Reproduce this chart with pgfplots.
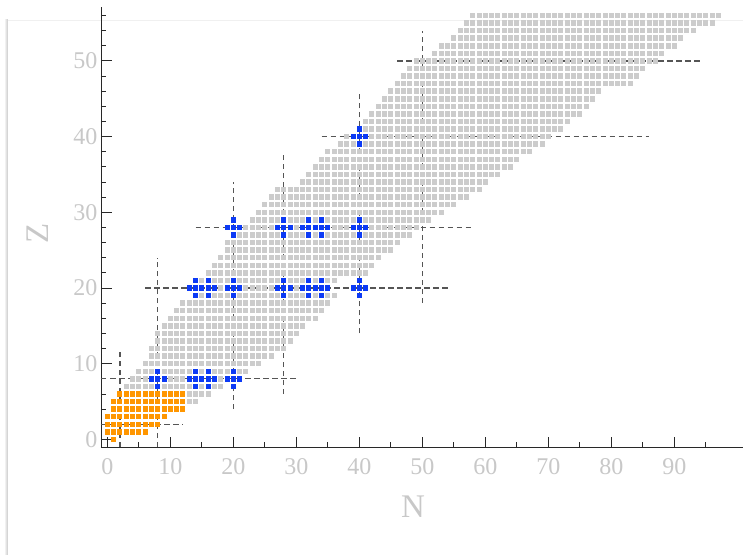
\documentclass[border=0pt]{standalone}
\usepackage{fontspec}
\setmainfont{Liberation Serif}
\usepackage{pgfplots}
\pgfplotsset{compat=1.18}
\definecolor{cellgray}{RGB}{204,204,204}
\definecolor{magicblue}{RGB}{12,58,245}
\definecolor{lightorange}{RGB}{255,150,0}
\definecolor{labelgray}{RGB}{200,200,200}
\definecolor{guide}{RGB}{85,85,85}
\definecolor{axisdark}{RGB}{40,40,40}

% one cell of the chart: slightly taller than wide
\pgfdeclareplotmark{cell}{%
  \pgfpathrectangle{\pgfpoint{-2.5pt}{-2.75pt}}{\pgfpoint{5.0pt}{5.5pt}}%
  \pgfusepathqfill}

\begin{document}
\begin{tikzpicture}
\useasboundingbox (-101pt,-107pt) rectangle (642pt,447pt);
% soft page edge behind the plot
\fill[left color=white, right color=black!22] (-97pt,-107pt) rectangle (-93pt,427pt);
\draw[black!6] (-93pt,427pt) -- (642pt,427pt);
\begin{axis}[
  scale only axis, width=642pt, height=440pt,
  xmin=-1, xmax=100.905, ymin=-1, ymax=57.12,
  axis x line*=bottom, axis y line*=left,
  axis line style={axisdark, line width=0.9pt},
  tick style={axisdark, line width=0.9pt},
  tick align=inside,
  major tick length=10.5pt, minor tick length=5pt,
  xtick={0,10,...,90}, minor xtick={5,15,...,95},
  ytick={0,10,...,50},
  minor ytick={2,4,6,8,12,14,16,18,22,24,26,28,32,34,36,38,42,44,46,48,52,54,56},
  /pgf/number format/assume math mode=true,
  tick label style={font=\fontsize{24}{24}\selectfont, text=labelgray},
  xticklabel style={yshift=-8.5pt},
  label style={font=\fontsize{33}{33}\selectfont, text=labelgray},
  xlabel={N}, ylabel={Z},
  xlabel style={at={(axis description cs:0.486,-0.1352)}, anchor=center},
  ylabel style={at={(axis description cs:-0.0981,0.486)}, anchor=center},
  cells/.style={only marks, mark=cell, color=#1},
]

% known nuclides (N,Z)
\addplot[cells=cellgray] coordinates {
(13,5)(14,5)
(13,6)(14,6)(15,6)(16,6)
(3,7)(4,7)(5,7)(6,7)(7,7)(8,7)(9,7)(10,7)(11,7)(12,7)(13,7)(14,7)(15,7)(16,7)(17,7)(18,7)
(4,8)(5,8)(6,8)(7,8)(8,8)(9,8)(10,8)(11,8)(12,8)(13,8)(14,8)(15,8)(16,8)(17,8)(18,8)(19,8)(20,8)
(5,9)(6,9)(7,9)(8,9)(9,9)(10,9)(11,9)(12,9)(13,9)(14,9)(15,9)(16,9)(17,9)(18,9)(19,9)(20,9)(21,9)(22,9)
(6,10)(7,10)(8,10)(9,10)(10,10)(11,10)(12,10)(13,10)(14,10)(15,10)(16,10)(17,10)(18,10)(19,10)(20,10)(21,10)(22,10)(23,10)(24,10)
(7,11)(8,11)(9,11)(10,11)(11,11)(12,11)(13,11)(14,11)(15,11)(16,11)(17,11)(18,11)(19,11)(20,11)(21,11)(22,11)(23,11)(24,11)(25,11)(26,11)
(7,12)(8,12)(9,12)(10,12)(11,12)(12,12)(13,12)(14,12)(15,12)(16,12)(17,12)(18,12)(19,12)(20,12)(21,12)(22,12)(23,12)(24,12)(25,12)(26,12)(27,12)(28,12)
(8,13)(9,13)(10,13)(11,13)(12,13)(13,13)(14,13)(15,13)(16,13)(17,13)(18,13)(19,13)(20,13)(21,13)(22,13)(23,13)(24,13)(25,13)(26,13)(27,13)(28,13)(29,13)
(8,14)(9,14)(10,14)(11,14)(12,14)(13,14)(14,14)(15,14)(16,14)(17,14)(18,14)(19,14)(20,14)(21,14)(22,14)(23,14)(24,14)(25,14)(26,14)(27,14)(28,14)(29,14)(30,14)
(9,15)(10,15)(11,15)(12,15)(13,15)(14,15)(15,15)(16,15)(17,15)(18,15)(19,15)(20,15)(21,15)(22,15)(23,15)(24,15)(25,15)(26,15)(27,15)(28,15)(29,15)(30,15)(31,15)
(10,16)(11,16)(12,16)(13,16)(14,16)(15,16)(16,16)(17,16)(18,16)(19,16)(20,16)(21,16)(22,16)(23,16)(24,16)(25,16)(26,16)(27,16)(28,16)(29,16)(30,16)(31,16)(32,16)(33,16)
(11,17)(12,17)(13,17)(14,17)(15,17)(16,17)(17,17)(18,17)(19,17)(20,17)(21,17)(22,17)(23,17)(24,17)(25,17)(26,17)(27,17)(28,17)(29,17)(30,17)(31,17)(32,17)(33,17)(34,17)
(12,18)(13,18)(14,18)(15,18)(16,18)(17,18)(18,18)(19,18)(20,18)(21,18)(22,18)(23,18)(24,18)(25,18)(26,18)(27,18)(28,18)(29,18)(30,18)(31,18)(32,18)(33,18)(34,18)(35,18)
(14,19)(15,19)(16,19)(17,19)(18,19)(19,19)(20,19)(21,19)(22,19)(23,19)(24,19)(25,19)(26,19)(27,19)(28,19)(29,19)(30,19)(31,19)(32,19)(33,19)(34,19)(35,19)(36,19)
(13,20)(14,20)(15,20)(16,20)(17,20)(18,20)(19,20)(20,20)(21,20)(22,20)(23,20)(24,20)(25,20)(26,20)(27,20)(28,20)(29,20)(30,20)(31,20)(32,20)(33,20)(34,20)(35,20)
(15,21)(16,21)(17,21)(18,21)(19,21)(20,21)(21,21)(22,21)(23,21)(24,21)(25,21)(26,21)(27,21)(28,21)(29,21)(30,21)(31,21)(32,21)(33,21)(34,21)(35,21)(36,21)
(16,22)(17,22)(18,22)(19,22)(20,22)(21,22)(22,22)(23,22)(24,22)(25,22)(26,22)(27,22)(28,22)(29,22)(30,22)(31,22)(32,22)(33,22)(34,22)(35,22)(36,22)(37,22)(38,22)(39,22)(40,22)(41,22)
(17,23)(18,23)(19,23)(20,23)(21,23)(22,23)(23,23)(24,23)(25,23)(26,23)(27,23)(28,23)(29,23)(30,23)(31,23)(32,23)(33,23)(34,23)(35,23)(36,23)(37,23)(38,23)(39,23)(40,23)(41,23)(42,23)
(18,24)(19,24)(20,24)(21,24)(22,24)(23,24)(24,24)(25,24)(26,24)(27,24)(28,24)(29,24)(30,24)(31,24)(32,24)(33,24)(34,24)(35,24)(36,24)(37,24)(38,24)(39,24)(40,24)(41,24)(42,24)(43,24)
(19,25)(20,25)(21,25)(22,25)(23,25)(24,25)(25,25)(26,25)(27,25)(28,25)(29,25)(30,25)(31,25)(32,25)(33,25)(34,25)(35,25)(36,25)(37,25)(38,25)(39,25)(40,25)(41,25)(42,25)(43,25)(44,25)(45,25)
(19,26)(20,26)(21,26)(22,26)(23,26)(24,26)(25,26)(26,26)(27,26)(28,26)(29,26)(30,26)(31,26)(32,26)(33,26)(34,26)(35,26)(36,26)(37,26)(38,26)(39,26)(40,26)(41,26)(42,26)(43,26)(44,26)(45,26)(46,26)
(21,27)(22,27)(23,27)(24,27)(25,27)(26,27)(27,27)(28,27)(29,27)(30,27)(31,27)(32,27)(33,27)(34,27)(35,27)(36,27)(37,27)(38,27)(39,27)(40,27)(41,27)(42,27)(43,27)(44,27)(45,27)(46,27)(47,27)(48,27)
(20,28)(21,28)(22,28)(23,28)(24,28)(25,28)(26,28)(27,28)(28,28)(29,28)(30,28)(31,28)(32,28)(33,28)(34,28)(35,28)(36,28)(37,28)(38,28)(39,28)(40,28)(41,28)(42,28)(43,28)(44,28)(45,28)(46,28)(47,28)(48,28)(49,28)
(23,29)(24,29)(25,29)(26,29)(27,29)(28,29)(29,29)(30,29)(31,29)(32,29)(33,29)(34,29)(35,29)(36,29)(37,29)(38,29)(39,29)(40,29)(41,29)(42,29)(43,29)(44,29)(45,29)(46,29)(47,29)(48,29)(49,29)(50,29)(51,29)
(24,30)(25,30)(26,30)(27,30)(28,30)(29,30)(30,30)(31,30)(32,30)(33,30)(34,30)(35,30)(36,30)(37,30)(38,30)(39,30)(40,30)(41,30)(42,30)(43,30)(44,30)(45,30)(46,30)(47,30)(48,30)(49,30)(50,30)(51,30)(52,30)(53,30)
(25,31)(26,31)(27,31)(28,31)(29,31)(30,31)(31,31)(32,31)(33,31)(34,31)(35,31)(36,31)(37,31)(38,31)(39,31)(40,31)(41,31)(42,31)(43,31)(44,31)(45,31)(46,31)(47,31)(48,31)(49,31)(50,31)(51,31)(52,31)(53,31)(54,31)(55,31)
(26,32)(27,32)(28,32)(29,32)(30,32)(31,32)(32,32)(33,32)(34,32)(35,32)(36,32)(37,32)(38,32)(39,32)(40,32)(41,32)(42,32)(43,32)(44,32)(45,32)(46,32)(47,32)(48,32)(49,32)(50,32)(51,32)(52,32)(53,32)(54,32)(55,32)(56,32)(57,32)
(27,33)(28,33)(29,33)(30,33)(31,33)(32,33)(33,33)(34,33)(35,33)(36,33)(37,33)(38,33)(39,33)(40,33)(41,33)(42,33)(43,33)(44,33)(45,33)(46,33)(47,33)(48,33)(49,33)(50,33)(51,33)(52,33)(53,33)(54,33)(55,33)(56,33)(57,33)(58,33)(59,33)
(31,34)(32,34)(33,34)(34,34)(35,34)(36,34)(37,34)(38,34)(39,34)(40,34)(41,34)(42,34)(43,34)(44,34)(45,34)(46,34)(47,34)(48,34)(49,34)(50,34)(51,34)(52,34)(53,34)(54,34)(55,34)(56,34)(57,34)(58,34)(59,34)(60,34)
(32,35)(33,35)(34,35)(35,35)(36,35)(37,35)(38,35)(39,35)(40,35)(41,35)(42,35)(43,35)(44,35)(45,35)(46,35)(47,35)(48,35)(49,35)(50,35)(51,35)(52,35)(53,35)(54,35)(55,35)(56,35)(57,35)(58,35)(59,35)(60,35)(61,35)(62,35)
(33,36)(34,36)(35,36)(36,36)(37,36)(38,36)(39,36)(40,36)(41,36)(42,36)(43,36)(44,36)(45,36)(46,36)(47,36)(48,36)(49,36)(50,36)(51,36)(52,36)(53,36)(54,36)(55,36)(56,36)(57,36)(58,36)(59,36)(60,36)(61,36)(62,36)(63,36)(64,36)
(34,37)(35,37)(36,37)(37,37)(38,37)(39,37)(40,37)(41,37)(42,37)(43,37)(44,37)(45,37)(46,37)(47,37)(48,37)(49,37)(50,37)(51,37)(52,37)(53,37)(54,37)(55,37)(56,37)(57,37)(58,37)(59,37)(60,37)(61,37)(62,37)(63,37)(64,37)(65,37)
(35,38)(36,38)(37,38)(38,38)(39,38)(40,38)(41,38)(42,38)(43,38)(44,38)(45,38)(46,38)(47,38)(48,38)(49,38)(50,38)(51,38)(52,38)(53,38)(54,38)(55,38)(56,38)(57,38)(58,38)(59,38)(60,38)(61,38)(62,38)(63,38)(64,38)(65,38)(66,38)(67,38)
(37,39)(38,39)(39,39)(40,39)(41,39)(42,39)(43,39)(44,39)(45,39)(46,39)(47,39)(48,39)(49,39)(50,39)(51,39)(52,39)(53,39)(54,39)(55,39)(56,39)(57,39)(58,39)(59,39)(60,39)(61,39)(62,39)(63,39)(64,39)(65,39)(66,39)(67,39)(68,39)(69,39)
(38,40)(39,40)(40,40)(41,40)(42,40)(43,40)(44,40)(45,40)(46,40)(47,40)(48,40)(49,40)(50,40)(51,40)(52,40)(53,40)(54,40)(55,40)(56,40)(57,40)(58,40)(59,40)(60,40)(61,40)(62,40)(63,40)(64,40)(65,40)(66,40)(67,40)(68,40)(69,40)(70,40)
(41,41)(42,41)(43,41)(44,41)(45,41)(46,41)(47,41)(48,41)(49,41)(50,41)(51,41)(52,41)(53,41)(54,41)(55,41)(56,41)(57,41)(58,41)(59,41)(60,41)(61,41)(62,41)(63,41)(64,41)(65,41)(66,41)(67,41)(68,41)(69,41)(70,41)(71,41)(72,41)
(41,42)(42,42)(43,42)(44,42)(45,42)(46,42)(47,42)(48,42)(49,42)(50,42)(51,42)(52,42)(53,42)(54,42)(55,42)(56,42)(57,42)(58,42)(59,42)(60,42)(61,42)(62,42)(63,42)(64,42)(65,42)(66,42)(67,42)(68,42)(69,42)(70,42)(71,42)(72,42)(73,42)
(42,43)(43,43)(44,43)(45,43)(46,43)(47,43)(48,43)(49,43)(50,43)(51,43)(52,43)(53,43)(54,43)(55,43)(56,43)(57,43)(58,43)(59,43)(60,43)(61,43)(62,43)(63,43)(64,43)(65,43)(66,43)(67,43)(68,43)(69,43)(70,43)(71,43)(72,43)(73,43)(74,43)(75,43)
(43,44)(44,44)(45,44)(46,44)(47,44)(48,44)(49,44)(50,44)(51,44)(52,44)(53,44)(54,44)(55,44)(56,44)(57,44)(58,44)(59,44)(60,44)(61,44)(62,44)(63,44)(64,44)(65,44)(66,44)(67,44)(68,44)(69,44)(70,44)(71,44)(72,44)(73,44)(74,44)(75,44)(76,44)
(44,45)(45,45)(46,45)(47,45)(48,45)(49,45)(50,45)(51,45)(52,45)(53,45)(54,45)(55,45)(56,45)(57,45)(58,45)(59,45)(60,45)(61,45)(62,45)(63,45)(64,45)(65,45)(66,45)(67,45)(68,45)(69,45)(70,45)(71,45)(72,45)(73,45)(74,45)(75,45)(76,45)(77,45)
(45,46)(46,46)(47,46)(48,46)(49,46)(50,46)(51,46)(52,46)(53,46)(54,46)(55,46)(56,46)(57,46)(58,46)(59,46)(60,46)(61,46)(62,46)(63,46)(64,46)(65,46)(66,46)(67,46)(68,46)(69,46)(70,46)(71,46)(72,46)(73,46)(74,46)(75,46)(76,46)(77,46)(78,46)
(46,47)(47,47)(48,47)(49,47)(50,47)(51,47)(52,47)(53,47)(54,47)(55,47)(56,47)(57,47)(58,47)(59,47)(60,47)(61,47)(62,47)(63,47)(64,47)(65,47)(66,47)(67,47)(68,47)(69,47)(70,47)(71,47)(72,47)(73,47)(74,47)(75,47)(76,47)(77,47)(78,47)(79,47)(80,47)(81,47)(82,47)(83,47)
(47,48)(48,48)(49,48)(50,48)(51,48)(52,48)(53,48)(54,48)(55,48)(56,48)(57,48)(58,48)(59,48)(60,48)(61,48)(62,48)(63,48)(64,48)(65,48)(66,48)(67,48)(68,48)(69,48)(70,48)(71,48)(72,48)(73,48)(74,48)(75,48)(76,48)(77,48)(78,48)(79,48)(80,48)(81,48)(82,48)(83,48)(84,48)
(48,49)(49,49)(50,49)(51,49)(52,49)(53,49)(54,49)(55,49)(56,49)(57,49)(58,49)(59,49)(60,49)(61,49)(62,49)(63,49)(64,49)(65,49)(66,49)(67,49)(68,49)(69,49)(70,49)(71,49)(72,49)(73,49)(74,49)(75,49)(76,49)(77,49)(78,49)(79,49)(80,49)(81,49)(82,49)(83,49)(84,49)(85,49)
(49,50)(50,50)(51,50)(52,50)(53,50)(54,50)(55,50)(56,50)(57,50)(58,50)(59,50)(60,50)(61,50)(62,50)(63,50)(64,50)(65,50)(66,50)(67,50)(68,50)(69,50)(70,50)(71,50)(72,50)(73,50)(74,50)(75,50)(76,50)(77,50)(78,50)(79,50)(80,50)(81,50)(82,50)(83,50)(84,50)(85,50)(86,50)(87,50)
(52,51)(53,51)(54,51)(55,51)(56,51)(57,51)(58,51)(59,51)(60,51)(61,51)(62,51)(63,51)(64,51)(65,51)(66,51)(67,51)(68,51)(69,51)(70,51)(71,51)(72,51)(73,51)(74,51)(75,51)(76,51)(77,51)(78,51)(79,51)(80,51)(81,51)(82,51)(83,51)(84,51)(85,51)(86,51)(87,51)(88,51)
(53,52)(54,52)(55,52)(56,52)(57,52)(58,52)(59,52)(60,52)(61,52)(62,52)(63,52)(64,52)(65,52)(66,52)(67,52)(68,52)(69,52)(70,52)(71,52)(72,52)(73,52)(74,52)(75,52)(76,52)(77,52)(78,52)(79,52)(80,52)(81,52)(82,52)(83,52)(84,52)(85,52)(86,52)(87,52)(88,52)(89,52)(90,52)
(55,53)(56,53)(57,53)(58,53)(59,53)(60,53)(61,53)(62,53)(63,53)(64,53)(65,53)(66,53)(67,53)(68,53)(69,53)(70,53)(71,53)(72,53)(73,53)(74,53)(75,53)(76,53)(77,53)(78,53)(79,53)(80,53)(81,53)(82,53)(83,53)(84,53)(85,53)(86,53)(87,53)(88,53)(89,53)(90,53)(91,53)
(56,54)(57,54)(58,54)(59,54)(60,54)(61,54)(62,54)(63,54)(64,54)(65,54)(66,54)(67,54)(68,54)(69,54)(70,54)(71,54)(72,54)(73,54)(74,54)(75,54)(76,54)(77,54)(78,54)(79,54)(80,54)(81,54)(82,54)(83,54)(84,54)(85,54)(86,54)(87,54)(88,54)(89,54)(90,54)(91,54)(92,54)(93,54)
(57,55)(58,55)(59,55)(60,55)(61,55)(62,55)(63,55)(64,55)(65,55)(66,55)(67,55)(68,55)(69,55)(70,55)(71,55)(72,55)(73,55)(74,55)(75,55)(76,55)(77,55)(78,55)(79,55)(80,55)(81,55)(82,55)(83,55)(84,55)(85,55)(86,55)(87,55)(88,55)(89,55)(90,55)(91,55)(92,55)(93,55)(94,55)(95,55)(96,55)
(58,56)(59,56)(60,56)(61,56)(62,56)(63,56)(64,56)(65,56)(66,56)(67,56)(68,56)(69,56)(70,56)(71,56)(72,56)(73,56)(74,56)(75,56)(76,56)(77,56)(78,56)(79,56)(80,56)(81,56)(82,56)(83,56)(84,56)(85,56)(86,56)(87,56)(88,56)(89,56)(90,56)(91,56)(92,56)(93,56)(94,56)(95,56)(96,56)(97,56)
};

% light nuclei
\addplot[cells=lightorange] coordinates {
(1,0)
(0,1)(1,1)(2,1)(3,1)(4,1)(5,1)(6,1)
(0,2)(1,2)(2,2)(3,2)(4,2)(5,2)(6,2)(7,2)(8,2)
(0,3)(1,3)(2,3)(3,3)(4,3)(5,3)(6,3)(7,3)(8,3)(9,3)
(1,4)(2,4)(3,4)(4,4)(5,4)(6,4)(7,4)(8,4)(9,4)(10,4)(11,4)(12,4)
(1,5)(2,5)(3,5)(4,5)(5,5)(6,5)(7,5)(8,5)(9,5)(10,5)(11,5)(12,5)
(2,6)(3,6)(4,6)(5,6)(6,6)(7,6)(8,6)(9,6)(10,6)(11,6)(12,6)
};

% magic-number guide lines
\pgfplotsset{guideline/.style={guide, line width=1.2pt, dash pattern=on 5.5pt off 3.5pt}}
\addplot[guideline] coordinates {(-1,2) (12,2)};
\addplot[guideline] coordinates {(-1,8) (30,8)};
\addplot[guideline] coordinates {(6,20) (54,20)};
\addplot[guideline] coordinates {(14,28) (58,28)};
\addplot[guideline] coordinates {(34,40) (86,40)};
\addplot[guideline] coordinates {(46,50) (94,50)};
\addplot[guideline] coordinates {(2,-1) (2,12)};
\addplot[guideline] coordinates {(8,-1) (8,24)};
\addplot[guideline] coordinates {(20,4) (20,34)};
\addplot[guideline] coordinates {(28,6) (28,38)};
\addplot[guideline] coordinates {(40,14) (40,46)};
\addplot[guideline] coordinates {(50,18) (50,54)};

% (doubly) magic nuclides with their neighbours
\addplot[cells=magicblue] coordinates {
(7,8)(8,8)(9,8)(8,7)(8,9)
(13,8)(14,8)(15,8)(14,7)(14,9)
(15,8)(16,8)(17,8)(16,7)(16,9)
(19,8)(20,8)(21,8)(20,7)(20,9)
(13,20)(14,20)(15,20)(14,19)(14,21)
(15,20)(16,20)(17,20)(16,19)(16,21)
(19,20)(20,20)(21,20)(20,19)(20,21)
(27,20)(28,20)(29,20)(28,19)(28,21)
(31,20)(32,20)(33,20)(32,19)(32,21)
(33,20)(34,20)(35,20)(34,19)(34,21)
(39,20)(40,20)(41,20)(40,19)(40,21)
(19,28)(20,28)(21,28)(20,27)(20,29)
(27,28)(28,28)(29,28)(28,27)(28,29)
(31,28)(32,28)(33,28)(32,27)(32,29)
(33,28)(34,28)(35,28)(34,27)(34,29)
(39,28)(40,28)(41,28)(40,27)(40,29)
(39,40)(40,40)(41,40)(40,39)(40,41)
};
\end{axis}
\end{tikzpicture}
\end{document}
